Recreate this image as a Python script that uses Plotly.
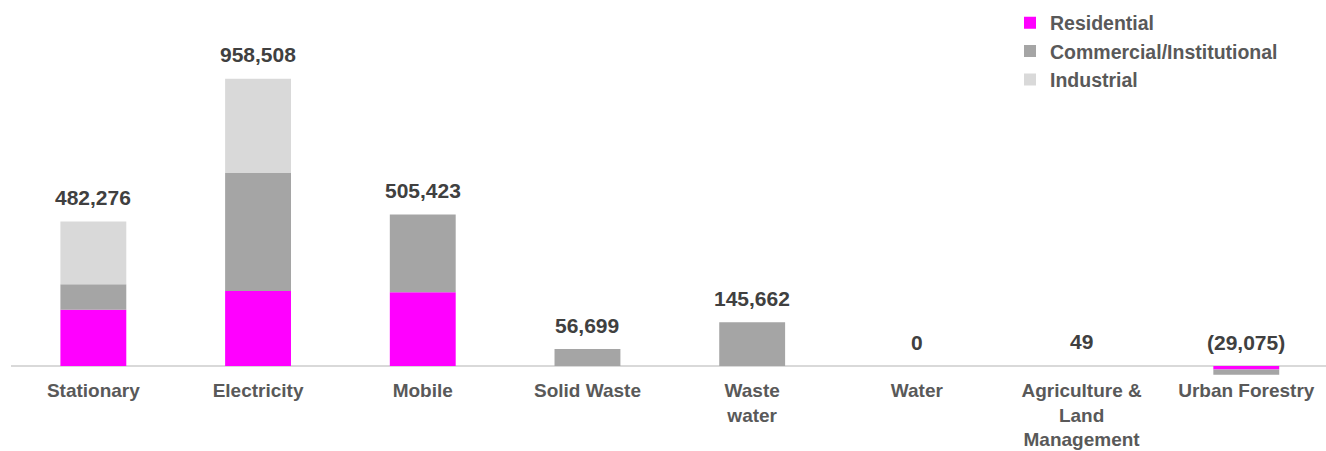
import plotly.graph_objects as go

# Emissions by sector, split by end-use category
categories = ["Stationary", "Electricity", "Mobile", "Solid Waste", "Waste<br>water",
              "Water", "Agriculture &<br>Land<br>Management", "Urban Forestry"]
residential = [187500, 250000, 246300, 0, 0, 0, 0, -12000]
commercial = [85400, 394000, 259123, 56699, 145662, 0, 0, -17075]
industrial = [209376, 314508, 0, 0, 0, 0, 49, 0]

totals = [r + c + i for r, c, i in zip(residential, commercial, industrial)]

def fmt(v):
    return f"({abs(v):,})" if v < 0 else f"{v:,}"

x = list(range(len(categories)))
font_family = "Arial, Liberation Sans, sans-serif"

fig = go.Figure()
series = [("Residential", residential, "#FF00FF"),
          ("Commercial/Institutional", commercial, "#A5A5A5"),
          ("Industrial", industrial, "#D9D9D9")]
for name, vals, color in series:
    fig.add_trace(go.Bar(x=x, y=vals, name=name, width=0.4,
                         marker=dict(color=color, line=dict(width=0))))

# total labels above each stack
for xi, t in zip(x, totals):
    fig.add_annotation(x=xi, y=max(t, 0), text=fmt(t), showarrow=False,
                       yanchor="middle", yshift=24,
                       font=dict(family=font_family, size=21, color="#404040",
                                 weight="bold"))

units_per_px = 3337
zero_px, top_px, bottom_px = 366, 5, 377
fig.update_layout(
    width=1326, height=451,
    barmode="relative",
    plot_bgcolor="white", paper_bgcolor="white",
    margin=dict(l=11, r=0, t=top_px, b=451 - bottom_px, autoexpand=False),
    font=dict(family=font_family, size=19, color="#595959", weight="bold"),
    legend=dict(x=(1010 - 11) / 1315, xref="paper", y=1.004, yanchor="top",
                traceorder="normal", itemwidth=30, tracegroupgap=0,
                font=dict(family=font_family, size=19.5, color="#595959",
                          weight="bold"),
                bgcolor="rgba(0,0,0,0)"),
    xaxis=dict(tickmode="array", tickvals=x, ticktext=categories, automargin=False,
               tickfont=dict(family=font_family, size=19, color="#595959",
                             weight="bold"),
               range=[-0.5, 7.484], showgrid=False, showline=False, ticks="",
               zeroline=False),
    yaxis=dict(range=[-(bottom_px - zero_px) * units_per_px, (zero_px - top_px) * units_per_px],
               automargin=False, showgrid=False, showticklabels=False, zeroline=True,
               zerolinecolor="#D9D9D9", zerolinewidth=2),
)

fig.write_html("out.html")
